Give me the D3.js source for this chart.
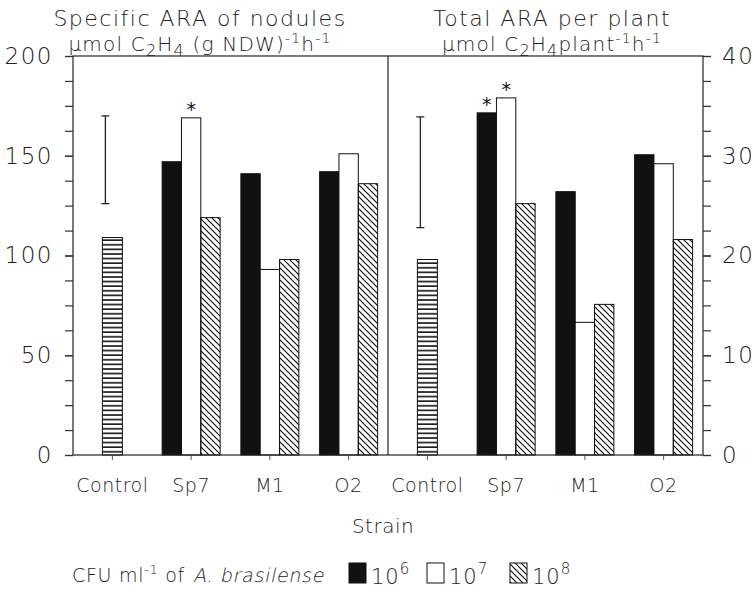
<!DOCTYPE html>
<html>
<head>
<meta charset="utf-8">
<script src="https://cdn.jsdelivr.net/npm/d3@7"></script>
<style>
  body { margin: 0; background: #fff; }
  text { font-family: "DejaVu Sans", "Liberation Sans", sans-serif; font-weight: 200; fill: #222; }
</style>
</head>
<body>
<svg id="chart" width="753" height="596"></svg>
<script>
// strains and inoculum levels
var strains = ["Control", "Sp7", "M1", "O2"];
var inoculated = ["Sp7", "M1", "O2"];
var doses = ["6", "7", "8"];

// specific ARA of nodules, umol C2H4 (g NDW)-1 h-1
var specificControl = 109;
var specificBar = [126, 170];
var specific6 = [147, 141, 142];
var specific7 = [169, 93, 151];
var specific8 = [119, 98, 136];
var specificStar = [["Sp7", "7"]];

// total ARA per plant, umol C2H4 plant-1 h-1
var totalControl = 19.6;
var totalBar = [22.8, 33.9];
var total6 = [34.3, 26.4, 30.1];
var total7 = [35.8, 13.3, 29.2];
var total8 = [25.2, 15.1, 21.6];
var totalStar = [["Sp7", "6"], ["Sp7", "7"]];

var leftTicks = [0, 50, 100, 150, 200];
var rightTicks = [0, 10, 20, 30, 40];

var svg = d3.select("#chart");
var x0 = 73, xMid = 388, x1 = 703, yTop = 56, yBase = 455;

var defs = svg.append("defs");
defs.append("pattern")
    .attr("id", "hatch")
    .attr("patternUnits", "userSpaceOnUse")
    .attr("width", 6).attr("height", 6)
  .append("path")
    .attr("d", "M0,0L6,6M-1,5L1,7M5,-1L7,1")
    .attr("stroke", "#111").attr("stroke-width", 1.2);
var stripe = defs.append("pattern")
    .attr("id", "stripe")
    .attr("patternUnits", "userSpaceOnUse")
    .attr("width", 8).attr("height", 4.6);
stripe.append("rect").attr("width", 8).attr("height", 4.6).attr("fill", "#fff");
stripe.append("line")
    .attr("x1", 0).attr("x2", 8).attr("y1", 1).attr("y2", 1)
    .attr("stroke", "#111").attr("stroke-width", 1.6);

var fills = { "6": "#111", "7": "#fff", "8": "url(#hatch)" };

var yL = d3.scaleLinear().domain([0, 200]).range([yBase, yTop]);
var yR = d3.scaleLinear().domain([0, 40]).range([yBase, yTop]);

function panel(x, y, control, lsd, s6, s7, s8, stars) {
    var inner = d3.scaleBand().domain(doses).range([-29, 29]);
    var rows = [];
    inoculated.forEach(function(s, i) {
        rows.push({ strain: s, dose: "6", v: s6[i] });
        rows.push({ strain: s, dose: "7", v: s7[i] });
        rows.push({ strain: s, dose: "8", v: s8[i] });
    });
    var cx = function(s) { return x(s) + x.bandwidth() / 2; };

    svg.append("rect")
        .attr("x", cx("Control") - 10).attr("width", 20)
        .attr("y", y(control)).attr("height", yBase - y(control))
        .attr("fill", "url(#stripe)")
        .attr("stroke", "#111").attr("stroke-width", 1);

    var g = svg.append("g");
    g.selectAll("rect")
        .data(rows)
        .enter().append("rect")
        .attr("x", function(d) { return cx(d.strain) + inner(d.dose); })
        .attr("width", inner.bandwidth())
        .attr("y", function(d) { return y(d.v); })
        .attr("height", function(d) { return yBase - y(d.v); })
        .attr("fill", function(d) { return fills[d.dose]; })
        .attr("stroke", "#111").attr("stroke-width", 1);

    var ex = cx("Control") - 7;
    svg.append("path")
        .attr("d", "M" + (ex - 4) + "," + y(lsd[1]) + "H" + (ex + 4) +
                   "M" + ex + "," + y(lsd[1]) + "V" + y(lsd[0]) +
                   "M" + (ex - 4) + "," + y(lsd[0]) + "H" + (ex + 4))
        .attr("stroke", "#222").attr("stroke-width", 1.3).attr("fill", "none");

    svg.selectAll(null)
        .data(stars)
        .enter().append("text")
        .attr("x", function(d) { return cx(d[0]) + inner(d[1]) + inner.bandwidth() / 2; })
        .attr("y", function(d) {
            var i = inoculated.indexOf(d[0]);
            var v = { "6": s6, "7": s7, "8": s8 }[d[1]][i];
            return y(v) - 2;
        })
        .attr("text-anchor", "middle")
        .style("font-size", "19px").style("font-weight", "normal").style("fill", "#111")
        .text("*");

    var ax = svg.append("g")
        .attr("transform", "translate(0," + yBase + ")")
        .call(d3.axisBottom(x).tickSize(5).tickSizeOuter(0).tickPadding(19));
    ax.select(".domain").remove();
    ax.selectAll("line").attr("stroke", "#555");
    ax.selectAll("text").style("font-size", "19px").style("letter-spacing", "0.5px")
        .attr("fill", "#222").attr("font-family", null);
}

var xl = d3.scaleBand().domain(strains).range([x0, xMid]);
var xr = d3.scaleBand().domain(strains).range([xMid, x1]);
panel(xl, yL, specificControl, specificBar, specific6, specific7, specific8, specificStar);
panel(xr, yR, totalControl, totalBar, total6, total7, total8, totalStar);

// frame
svg.append("rect")
    .attr("x", x0).attr("y", yTop).attr("width", x1 - x0).attr("height", yBase - yTop)
    .attr("fill", "none").attr("stroke", "#222").attr("stroke-width", 1.2);
svg.append("line")
    .attr("x1", xMid).attr("x2", xMid).attr("y1", yTop).attr("y2", yBase)
    .attr("stroke", "#222").attr("stroke-width", 1.2);

function styleAxis(a) {
    a.select(".domain").remove();
    a.selectAll("line").attr("stroke", "#333").attr("stroke-width", 1.2);
    a.selectAll("text").style("font-size", "23px").style("letter-spacing", "1.5px")
        .attr("fill", "#222").attr("font-family", null);
}
var minorL = d3.range(0, 200.1, 12.5);
var minorR = d3.range(0, 40.1, 2.5);
styleAxis(svg.append("g").attr("transform", "translate(" + x0 + ",0)")
    .call(d3.axisLeft(yL).tickValues(minorL).tickSize(8).tickFormat("")));
styleAxis(svg.append("g").attr("transform", "translate(" + x0 + ",0)")
    .call(d3.axisLeft(yL).tickValues(leftTicks).tickSize(8).tickPadding(12)));
styleAxis(svg.append("g").attr("transform", "translate(" + x1 + ",0)")
    .call(d3.axisRight(yR).tickValues(minorR).tickSize(8).tickFormat("")));
styleAxis(svg.append("g").attr("transform", "translate(" + x1 + ",0)")
    .call(d3.axisRight(yR).tickValues(rightTicks).tickSize(8).tickPadding(11)));

// titles
function title(cx, line1, parts) {
    svg.append("text").attr("x", cx).attr("y", 26).attr("text-anchor", "middle")
        .style("font-size", "22px").style("letter-spacing", "1.5px").text(line1);
    var t = svg.append("text").attr("x", cx).attr("y", 51).attr("text-anchor", "middle")
        .style("font-size", "20px").style("letter-spacing", "1.2px");
    parts.forEach(function(p) {
        var s = t.append("tspan").text(p[0]);
        if (p[1] == "sub") s.attr("dy", 5).style("font-size", "16px");
        if (p[1] == "sup") s.attr("dy", -8).style("font-size", "14px");
        if (p[1] == "back") s.attr("dy", p[2]);
    });
}
title(200, "Specific ARA of nodules", [
    ["\u00b5mol C"], ["2", "sub"], ["H", "back", -5], ["4", "sub"],
    [" (g NDW)", "back", -5], ["-1", "sup"], ["h", "back", 8], ["-1", "sup"], ["", "back", 8]
]);
title(552, "Total ARA per plant", [
    ["\u00b5mol C"], ["2", "sub"], ["H", "back", -5], ["4", "sub"],
    ["plant", "back", -5], ["-1", "sup"], ["h", "back", 8], ["-1", "sup"], ["", "back", 8]
]);

svg.append("text").attr("x", 383).attr("y", 533).attr("text-anchor", "middle")
    .style("font-size", "20px").style("letter-spacing", "0.5px").text("Strain");

// legend
var lg = svg.append("text").attr("x", 72).attr("y", 582)
    .style("font-size", "19px").style("letter-spacing", "0.7px");
lg.append("tspan").text("CFU ml");
lg.append("tspan").text("-1").attr("dy", -8).style("font-size", "13px");
lg.append("tspan").text(" of").attr("dy", 8);
var lgEnd = 72 + lg.node().getComputedTextLength() + 8;
// light italic is not installed, so slant the light face instead
svg.append("text")
    .attr("transform", "translate(" + lgEnd + ",582) skewX(-12)")
    .style("font-size", "19px").style("letter-spacing", "0.7px")
    .text("A. brasilense");

var legendX = d3.scaleOrdinal().domain(doses).range([349, 427, 510]);
doses.forEach(function(d) {
    svg.append("rect").attr("x", legendX(d)).attr("y", 563).attr("width", 17).attr("height", 20)
        .attr("fill", fills[d]).attr("stroke", "#111").attr("stroke-width", 1);
    var t = svg.append("text").attr("x", legendX(d) + 22).attr("y", 584)
        .style("font-size", "21px").style("letter-spacing", "1px");
    t.append("tspan").text("10");
    t.append("tspan").text(d).attr("dy", -10).style("font-size", "15px");
});
</script>
</body>
</html>
